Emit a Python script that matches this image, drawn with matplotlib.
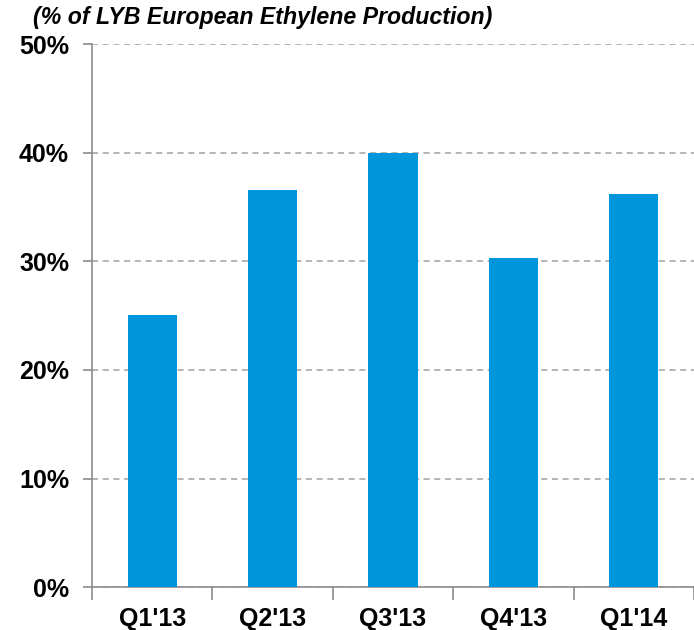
import matplotlib
matplotlib.use("Agg")
import matplotlib.pyplot as plt
from matplotlib.ticker import FuncFormatter

plt.rcParams['font.family'] = ['Liberation Sans', 'DejaVu Sans']

quarters = ["Q1'13", "Q2'13", "Q3'13", "Q4'13", "Q1'14"]
share = [25.1, 36.6, 40.0, 30.3, 36.2]  # % of LYB European ethylene production

fig = plt.figure(figsize=(6.94, 6.30), dpi=100)
ax = fig.add_axes([0.1326, 0.068, 0.8674, 0.862])

x = range(len(quarters))
ax.bar(x, share, width=0.41, color="#0096DB", zorder=3)

ax.set_xlim(-0.5, len(quarters) - 0.5)
ax.set_ylim(0, 50)
ax.set_yticks([0, 10, 20, 30, 40, 50])
ax.yaxis.set_major_formatter(FuncFormatter(lambda v, p: "%d%%" % v))
ax.yaxis.grid(True, linestyle=(0, (4, 3)), color="#a0a0a0", linewidth=1.1, zorder=0)

# category labels in the middle, ticks at the boundaries
ax.set_xticks(list(x))
ax.set_xticklabels(quarters)
ax.tick_params(axis="x", length=0, pad=14)
ax.set_xticks([i - 0.5 for i in range(len(quarters) + 1)], minor=True)
ax.tick_params(axis="x", which="minor", length=9, color="#8c8c8c", width=1.2)
ax.tick_params(axis="y", length=6.5, color="#8c8c8c", width=1.2, pad=10)

for lab in ax.get_xticklabels() + ax.get_yticklabels():
    lab.set_fontsize(18)
    lab.set_fontweight("bold")

for s in ["top", "right"]:
    ax.spines[s].set_visible(False)
for s in ["left", "bottom"]:
    ax.spines[s].set_color("#8c8c8c")
    ax.spines[s].set_linewidth(1.2)

fig.text(0.048, 0.973, "(% of LYB European Ethylene Production)", fontsize=16.7,
         fontweight="bold", fontstyle="italic", ha="left", va="center")

fig.savefig("out.png", dpi=100)
